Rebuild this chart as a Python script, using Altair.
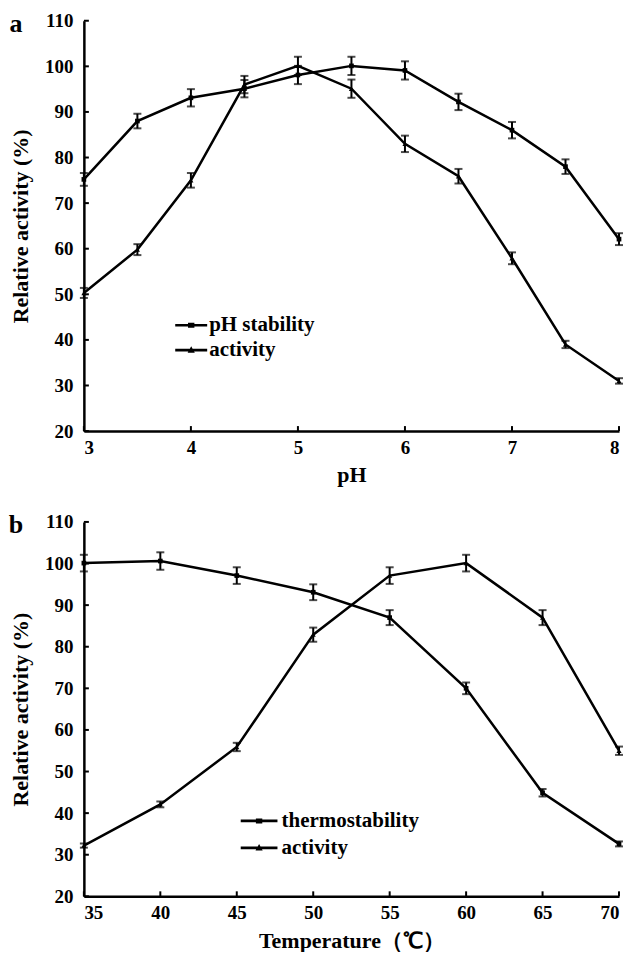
import altair as alt
import pandas as pd

FONT = "Liberation Serif"

# ---- panel a: pH ----
ph = [3, 3.5, 4, 4.5, 5, 5.5, 6, 6.5, 7, 7.5, 8]
ph_stability = [75.2, 88, 93.1, 95.1, 98.1, 100.1, 99.1, 92.2, 86, 78, 62.1]
ph_stability_err = [1.4, 1.6, 1.9, 1.9, 2.0, 2.0, 2.0, 1.8, 1.8, 1.6, 1.3]
ph_activity = [50.3, 59.8, 75, 96, 100.1, 95.1, 83, 75.9, 57.9, 39, 31]
ph_activity_err = [1.1, 1.2, 1.6, 1.9, 2.0, 2.0, 1.8, 1.6, 1.3, 0.8, 0.6]
ph_names = ["pH stability", "activity"]
ph_ticks = [3, 4, 5, 6, 7, 8]

# ---- panel b: temperature ----
temp = [35, 40, 45, 50, 55, 60, 65, 70]
thermostability = [100.1, 100.6, 97.1, 93.1, 87, 70, 44.9, 32.6]
thermostability_err = [2.0, 2.1, 2.0, 1.9, 1.8, 1.4, 0.9, 0.6]
temp_activity = [32.2, 42.1, 55.9, 82.9, 97.1, 100.1, 87, 55]
temp_activity_err = [0.5, 0.7, 1.0, 1.7, 2.0, 2.0, 1.8, 1.0]
temp_names = ["thermostability", "activity"]
temp_ticks = [35, 40, 45, 50, 55, 60, 65, 70]

y_ticks = [20, 30, 40, 50, 60, 70, 80, 90, 100, 110]
panel_labels = ["a", "b"]
Y_TITLE = "Relative activity (%)"


def long_df(xs, names, v1, e1, v2, e2):
    rows = []
    for x, v, e in zip(xs, v1, e1):
        rows.append({"x": x, "series": names[0], "v": v, "err": e})
    for x, v, e in zip(xs, v2, e2):
        rows.append({"x": x, "series": names[1], "v": v, "err": e})
    return pd.DataFrame(rows)


def panel(df, xdomain, xticks, xtitle, names, label, h, half_len,
          legend_x, legend_y, row_pad, label_offset):
    xs = alt.Scale(domain=xdomain, nice=False, zero=False)
    ys = alt.Scale(domain=[20, 110], nice=False, zero=False)
    xax = alt.Axis(values=xticks, title=xtitle)
    yax = alt.Axis(values=y_ticks, title=Y_TITLE)

    def X(f):
        return alt.X(f, scale=xs, axis=xax)

    def Y(f):
        return alt.Y(f, scale=ys, axis=yax)

    base = alt.Chart(df).transform_calculate(
        lo="datum.v - datum.err", hi="datum.v + datum.err")

    lines = base.mark_line(color="black", strokeWidth=2.5).encode(
        x=X("x:Q"), y=Y("v:Q"), detail="series:N")
    errs = base.mark_rule(color="black", strokeWidth=2).encode(
        x=X("x:Q"), y=Y("lo:Q"), y2="hi:Q")
    cap_lo = base.mark_tick(orient="horizontal", color="black", thickness=2,
                            size=8).encode(x=X("x:Q"), y=Y("lo:Q"))
    cap_hi = base.mark_tick(orient="horizontal", color="black", thickness=2,
                            size=8).encode(x=X("x:Q"), y=Y("hi:Q"))
    p1 = base.transform_filter(alt.datum.series == names[0]).mark_point(
        shape="square", filled=True, color="black", size=22, opacity=1).encode(
        x=X("x:Q"), y=Y("v:Q"))
    p2 = base.transform_filter(alt.datum.series == names[1]).mark_point(
        shape="triangle-up", filled=True, color="black", size=26, opacity=1).encode(
        x=X("x:Q"), y=Y("v:Q"))

    L = half_len
    bar = f"M-{L},-0.17H{L}V0.17H-{L}Z"
    paths = [
        bar + "M-0.4,-0.32H0.4V0.32H-0.4Z",
        bar + "M0,-0.5L0.45,0.32H-0.45Z",
    ]
    leg = alt.Chart(df).transform_filter("false").mark_point(
        filled=True, color="black", size=256, opacity=1).encode(
        x=X("x:Q"), y=Y("v:Q"),
        shape=alt.Shape("series:N",
                        scale=alt.Scale(domain=names, range=paths),
                        legend=alt.Legend(orient="none", legendX=legend_x,
                                          legendY=legend_y, title=None,
                                          rowPadding=row_pad,
                                          symbolSize=256,
                                          labelOffset=label_offset)))

    ytk = alt.Chart(pd.DataFrame({"t": y_ticks})).mark_rule(
        color="black", strokeWidth=2).encode(
        y=Y("t:Q"), x=alt.value(0), x2=alt.value(5))
    xtk = alt.Chart(pd.DataFrame({"t": xticks})).mark_rule(
        color="black", strokeWidth=2).encode(
        x=X("t:Q"), y=alt.value(h), y2=alt.value(h - 5))

    lab = alt.Chart(pd.DataFrame({"label": [label]})).mark_text(
        font=FONT, fontWeight="bold", fontSize=26, align="center",
        baseline="middle", color="black").encode(
        text="label:N", x=alt.value(-68), y=alt.value(3))

    return alt.layer(lines, errs, cap_lo, cap_hi, p1, p2, leg, ytk, xtk, lab).resolve_scale(
        shape="independent").properties(width=536, height=h)


df_a = long_df(ph, ph_names, ph_stability, ph_stability_err, ph_activity, ph_activity_err)
df_b = long_df(temp, temp_names, thermostability, thermostability_err,
               temp_activity, temp_activity_err)

chart_a = panel(df_a, [3, 8], ph_ticks, "pH", ph_names, panel_labels[0], 411, 2.0,
                97, 294.5, 3, 7.5)
chart_b = panel(df_b, [35, 70], temp_ticks, "Temperature（℃）", temp_names,
                panel_labels[1], 375, 2.3, 165, 289, 5, 12)

chart = alt.vconcat(chart_a, chart_b, spacing=26).resolve_scale(
    x="independent", y="independent", shape="independent"
).properties(
    padding={"left": 0, "top": 2, "right": 0, "bottom": 0}
).configure_view(stroke=None).configure_axis(
    domainColor="black", domainWidth=2.5, grid=False, ticks=False,
    labelFont=FONT, labelFontSize=19, labelFontWeight="bold", labelColor="black",
    titleFont=FONT, titleFontSize=22, titleFontWeight="bold", titleColor="black",
).configure_axisX(labelPadding=7, titlePadding=8).configure_axisY(
    labelPadding=11, titlePadding=12
).configure_legend(
    labelFont=FONT, labelFontSize=21, labelFontWeight="bold", labelColor="black",
    padding=0,
)

chart.save("out.html", embed_options={"renderer": "svg", "actions": False})
